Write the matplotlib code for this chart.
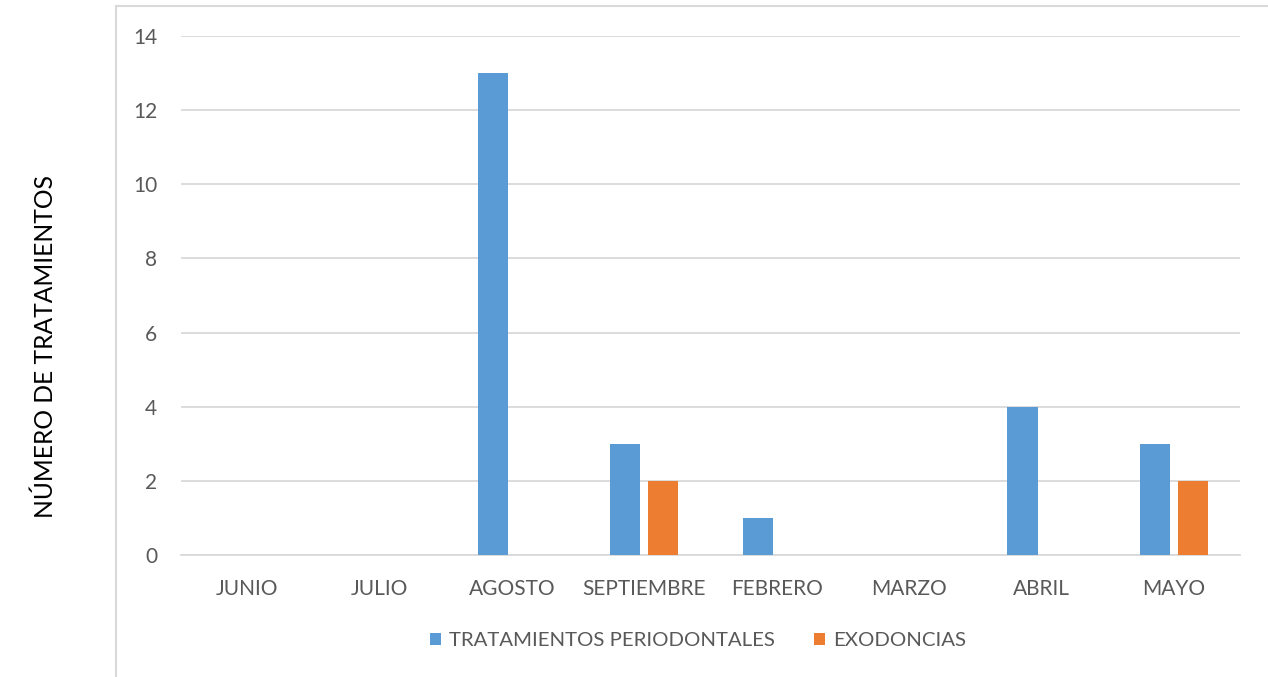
import numpy as np
import matplotlib.pyplot as plt
from matplotlib.patches import Rectangle

# datos
meses = ["JUNIO", "JULIO", "AGOSTO", "SEPTIEMBRE", "FEBRERO", "MARZO", "ABRIL", "MAYO"]
periodontales = [0, 0, 13, 3, 1, 0, 4, 3]
exodoncias = [0, 0, 0, 2, 0, 0, 0, 2]
yticks = [0, 2, 4, 6, 8, 10, 12, 14]

plt.rcParams['font.family'] = ['Lato', 'DejaVu Sans']
gris = "#595959"

fig = plt.figure(figsize=(12.68, 6.77), dpi=100)
ax = fig.add_axes([181 / 1268, 1 - 555 / 677, (1240 - 181) / 1268, (555 - 36) / 677])

# marco exterior del grafico
fig.patches.append(Rectangle((116 / 1268, -0.05), 1.2, 1 - 6 / 677 + 0.05,
                             transform=fig.transFigure, fill=False,
                             edgecolor="#D9D9D9", linewidth=1.5))

x = np.arange(len(meses))
ancho = 0.227
ax.bar(x - 0.143, periodontales, ancho, color="#5B9BD5", label="TRATAMIENTOS PERIODONTALES", zorder=3)
ax.bar(x + 0.143, exodoncias, ancho, color="#ED7D31", label="EXODONCIAS", zorder=3)

ax.set_xlim(-0.5, len(meses) - 0.5)
ax.set_ylim(0, 14)
ax.set_yticks(yticks)
ax.set_xticks(x)
ax.set_xticklabels(meses)
ax.tick_params(axis="both", length=0, colors=gris, labelsize=15)
ax.tick_params(axis="x", pad=17)
ax.tick_params(axis="y", pad=17)
ax.grid(axis="y", color="#D9D9D9", linewidth=1.3, zorder=0)
for s in ["top", "right", "left"]:
    ax.spines[s].set_visible(False)
ax.spines["bottom"].set_color("#D9D9D9")
ax.spines["bottom"].set_linewidth(1.3)

fig.text(45 / 1268, 1 - 346 / 677, "NÚMERO DE TRATAMIENTOS", rotation=90,
         ha="center", va="center", fontsize=17.7, color="black")

fig.legend(loc="center", bbox_to_anchor=(698 / 1268, 1 - 641 / 677), ncol=2, frameon=False,
           fontsize=14.7, labelcolor=gris, handlelength=0.55, handleheight=0.55,
           handletextpad=0.4, columnspacing=1.9)

plt.savefig("out.png", dpi=100)
